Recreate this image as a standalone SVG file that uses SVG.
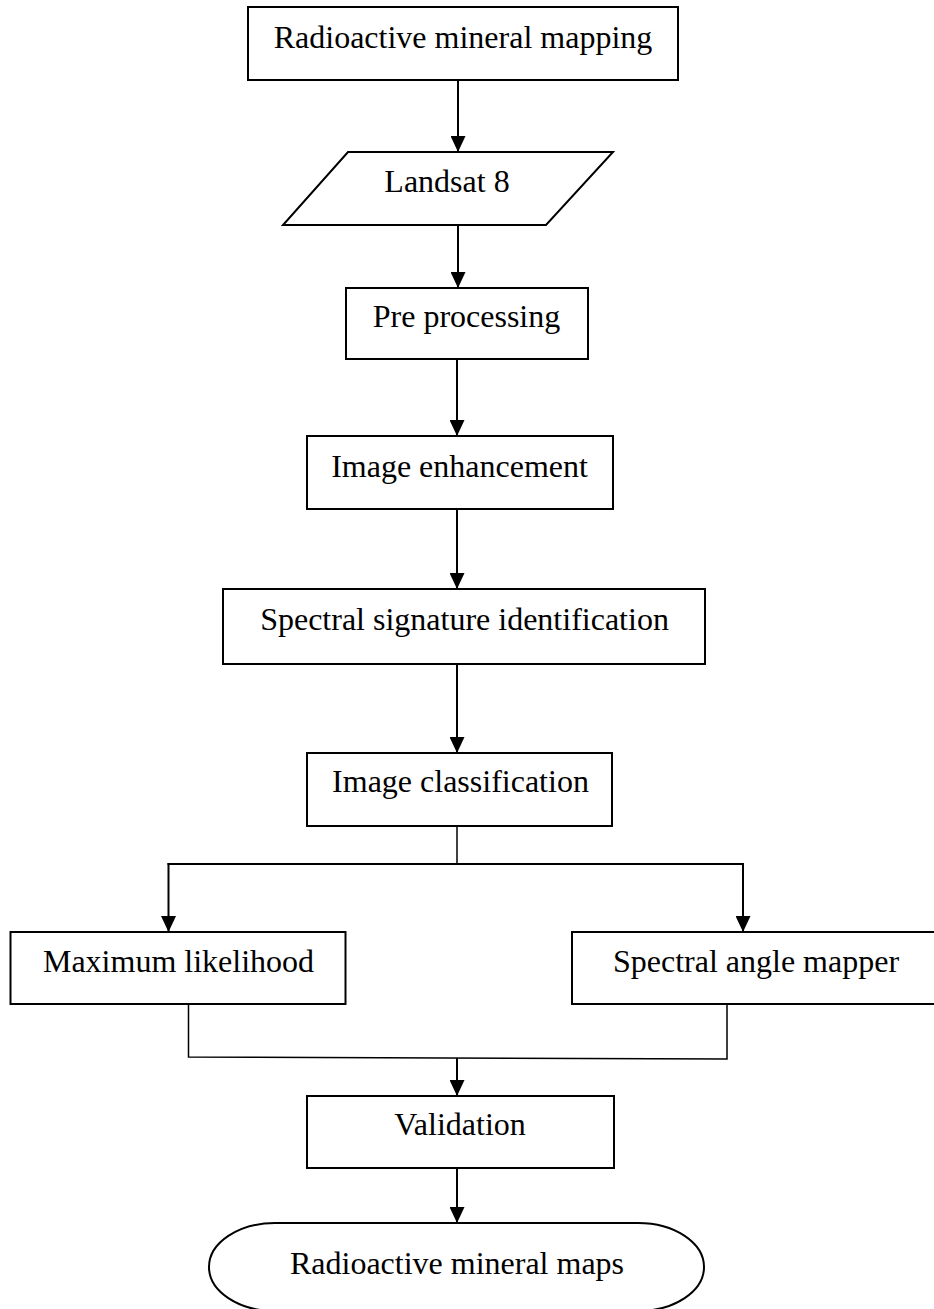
<svg xmlns="http://www.w3.org/2000/svg" width="934" height="1309" viewBox="0 0 934 1309">
<defs>
<style>
.box{fill:#fff;stroke:#000;stroke-width:2}
.t{font-family:"Liberation Serif","Times New Roman",serif;font-size:32px;fill:#000;text-anchor:middle}
.c{fill:none;stroke:#000;stroke-width:2}
.thin{fill:none;stroke:#000;stroke-width:1.5}
</style>
<marker id="ah" markerUnits="userSpaceOnUse" markerWidth="16" markerHeight="15" refX="16" refY="7.5" orient="auto">
<path d="M0,0 L16,7.5 L0,15 Z" fill="#000"/>
</marker>
</defs>
<rect width="934" height="1309" fill="#fff"/>
<g id="connectors">
<line class="c" x1="458" y1="80" x2="458" y2="152" marker-end="url(#ah)"/>
<line class="c" x1="458" y1="225" x2="458" y2="288" marker-end="url(#ah)"/>
<line class="c" x1="457" y1="359" x2="457" y2="436" marker-end="url(#ah)"/>
<line class="c" x1="457" y1="509" x2="457" y2="589" marker-end="url(#ah)"/>
<line class="c" x1="457" y1="664" x2="457" y2="753" marker-end="url(#ah)"/>
<line class="thin" x1="457" y1="826" x2="457" y2="864"/>
<line class="c" x1="167.5" y1="864" x2="744" y2="864"/>
<line class="c" x1="168.5" y1="863" x2="168.5" y2="932" marker-end="url(#ah)"/>
<line class="c" x1="743" y1="863" x2="743" y2="932" marker-end="url(#ah)"/>
<polyline class="thin" points="188.5,1004 188.5,1057 727,1059 727,1004"/>
<line class="c" x1="457" y1="1058" x2="457" y2="1096" marker-end="url(#ah)"/>
<line class="c" x1="457" y1="1168" x2="457" y2="1223" marker-end="url(#ah)"/>
</g>
<g id="n1"><rect class="box" x="248" y="7" width="430" height="73"/><text class="t" x="463" y="48">Radioactive mineral mapping</text></g>
<g id="n2"><polygon class="box" points="348,152 613,152 546,225 283,225"/><text class="t" x="447" y="192">Landsat 8</text></g>
<g id="n3"><rect class="box" x="346" y="288" width="242" height="71"/><text class="t" x="466.5" y="327">Pre processing</text></g>
<g id="n4"><rect class="box" x="307" y="436" width="306" height="73"/><text class="t" x="459.5" y="477">Image enhancement</text></g>
<g id="n5"><rect class="box" x="223" y="589" width="482" height="75"/><text class="t" x="464.5" y="630">Spectral signature identification</text></g>
<g id="n6"><rect class="box" x="307" y="753" width="305" height="73"/><text class="t" x="460.5" y="792">Image classification</text></g>
<g id="n7"><rect class="box" x="10.5" y="932" width="335" height="72"/><text class="t" x="178.5" y="972">Maximum likelihood</text></g>
<g id="n8"><rect class="box" x="572" y="932" width="364" height="72"/><text class="t" x="756" y="972">Spectral angle mapper</text></g>
<g id="n9"><rect class="box" x="307" y="1096" width="307" height="72"/><text class="t" x="460" y="1135">Validation</text></g>
<g id="n10"><path class="box" d="M275,1223 H638 A66,44 0 0 1 638,1311 H275 A66,44 0 0 1 275,1223 Z"/><text class="t" x="457" y="1274">Radioactive mineral maps</text></g>
</svg>
